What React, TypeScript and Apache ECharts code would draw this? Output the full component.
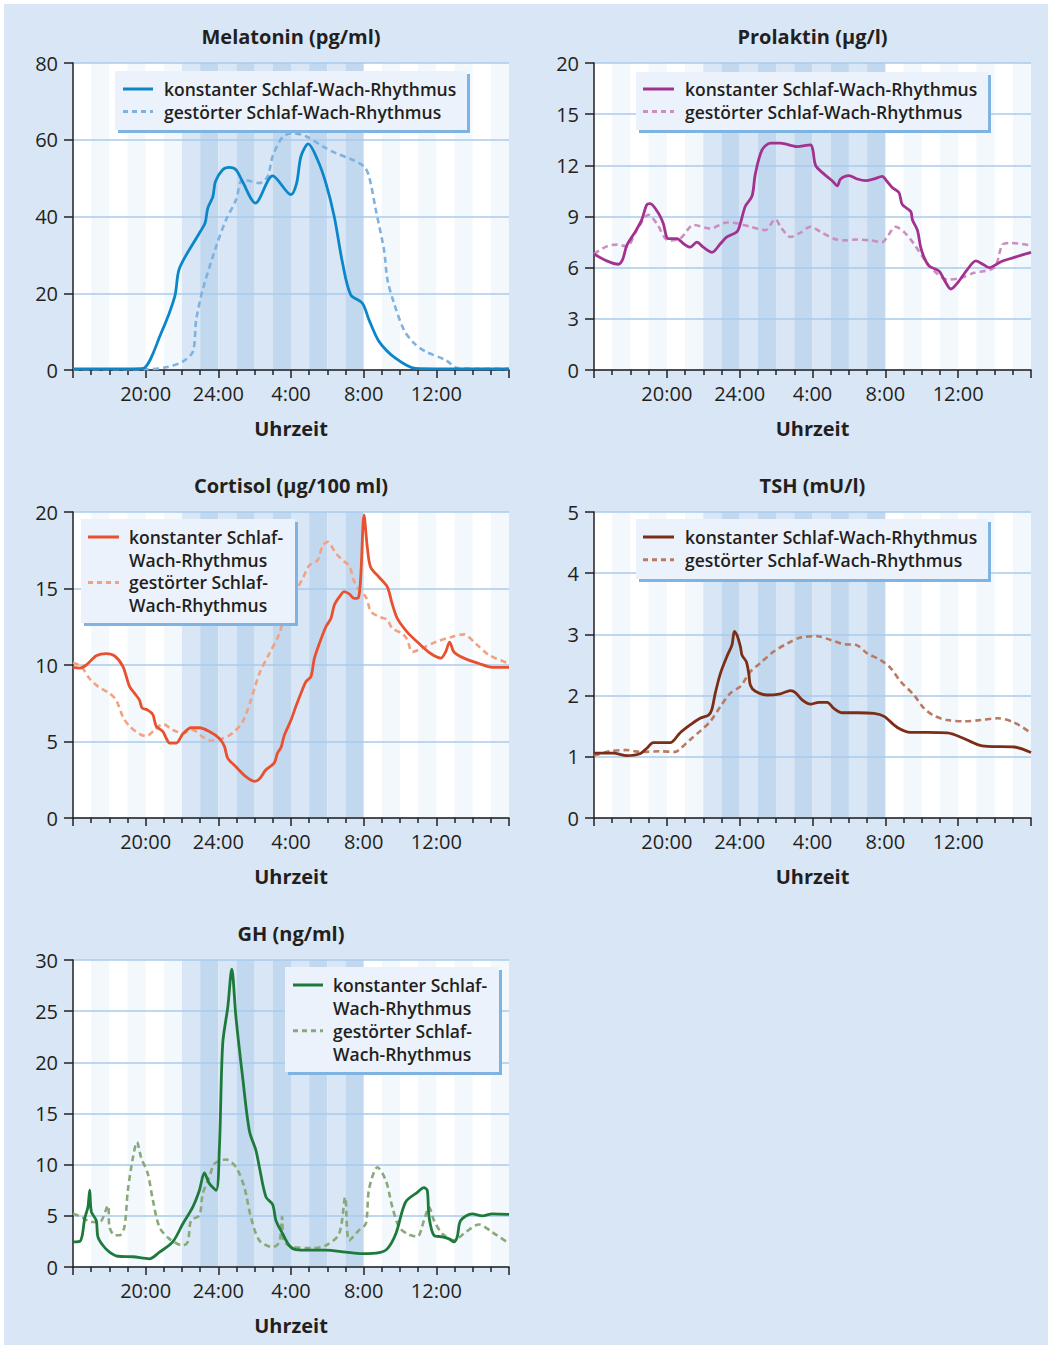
import React, { useEffect, useRef } from "react";
import * as echarts from "echarts";

// Time axis runs from 16:00 to 16:00 next day, expressed as hours 16..40
const HOUR_MIN = 16;
const HOUR_MAX = 40;
const HOUR_LABELS: Record<number, string> = {
  20: "20:00",
  24: "24:00",
  28: "4:00",
  32: "8:00",
  36: "12:00",
};

// Background bands: [from hour, to hour, kind]
// kind 0 = plain day, 1 = shaded day hour, 2 = night (light), 3 = night (dark)
const hourBands: number[][] = [
  [16, 40, 0],
  [17, 18, 1], [19, 20, 1], [21, 22, 1],
  [22, 23, 2], [23, 24, 3], [24, 25, 2], [25, 26, 3], [26, 27, 2],
  [27, 28, 3], [28, 29, 2], [29, 30, 3], [30, 31, 2], [31, 32, 3],
  [33, 34, 1], [35, 36, 1], [37, 38, 1], [39, 40, 1],
];

const LEGEND_CONST = "konstanter Schlaf-Wach-Rhythmus";
const LEGEND_DIST = "gestörter Schlaf-Wach-Rhythmus";
const LEGEND_CONST_WRAPPED = ["konstanter Schlaf-", "Wach-Rhythmus"];
const LEGEND_DIST_WRAPPED = ["gestörter Schlaf-", "Wach-Rhythmus"];

// ---- Melatonin (pg/ml)
const melatoninKonstant: number[][] = [
  [16, 0.3], [19.3, 0.3], [19.85, 0.4], [20.85, 9.6], [21.6, 19.1], [21.86, 26.5],
  [22.96, 35.7], [23.27, 38.3], [23.42, 42.2], [23.7, 45.2], [23.84, 49.1],
  [24.24, 52.2], [24.6, 52.8], [24.97, 52.2], [25.33, 49.1], [26.04, 43.5],
  [26.99, 50.6], [28.0, 45.7], [28.31, 48.7], [28.55, 55.7], [28.95, 58.9],
  [29.46, 54.8], [29.92, 48.7], [30.38, 40], [30.84, 27.8], [31.29, 19.6],
  [31.93, 17.4], [32.3, 13], [32.85, 7.4], [33.77, 3], [34.86, 0.4], [36, 0.3], [40, 0.3],
];
const melatoninGestoert: number[][] = [
  [16, 0.2], [20, 0.2], [21.13, 0.7], [22.04, 2.2], [22.6, 4.8], [22.78, 13],
  [23.14, 20.9], [23.88, 32.2], [24.42, 39.1], [24.97, 44.3], [25.33, 49.6],
  [25.8, 49.2], [26.26, 48.7], [26.71, 50.4], [26.99, 55.7], [27.54, 60.7],
  [28.1, 61.7], [28.82, 60.9], [29.74, 58.3], [30.47, 56.5], [31.38, 54.8],
  [32.03, 53], [32.3, 50.4], [32.67, 41.7], [33.12, 31.3], [33.31, 23.5],
  [33.67, 17.4], [34.22, 10.4], [34.77, 7], [35.41, 4.8], [36.51, 2.6],
  [37.25, 0.4], [40, 0.3],
];

// ---- Prolaktin (µg/l)
const prolaktinKonstant: number[][] = [
  [16, 6.8], [16.7, 6.4], [17.34, 6.2], [17.58, 6.5], [17.8, 7.3], [18.26, 8.1],
  [18.62, 8.8], [18.9, 9.7], [19.08, 9.75], [19.53, 9.2], [19.8, 8.6], [20.08, 7.7],
  [20.55, 7.7], [20.92, 7.4], [21.28, 7.2], [21.65, 7.5], [22.0, 7.2], [22.48, 6.9],
  [22.94, 7.4], [23.3, 7.8], [23.85, 8.1], [24.04, 8.6], [24.31, 9.6], [24.68, 10.2],
  [24.86, 11.5], [25.23, 12.9], [25.69, 13.3], [26.24, 13.3], [27.16, 13.1],
  [27.89, 13.2], [28.02, 12.9], [28.17, 12.0], [28.62, 11.5], [29.08, 11.1],
  [29.36, 10.8], [29.54, 11.2], [30.0, 11.4], [30.46, 11.2], [30.92, 11.1],
  [31.37, 11.2], [31.83, 11.35], [32.1, 11.05], [32.38, 10.7], [32.75, 10.4],
  [32.93, 9.7], [33.39, 9.3], [33.49, 8.8], [33.76, 8.2], [33.94, 7.2], [34.13, 6.6],
  [34.4, 6.1], [34.95, 5.8], [35.23, 5.3], [35.6, 4.75], [35.96, 5.1], [36.51, 5.9],
  [36.97, 6.4], [37.43, 6.15], [37.7, 6.0], [38.35, 6.35], [39.08, 6.6], [40, 6.9],
];
const prolaktinGestoert: number[][] = [
  [16, 6.8], [16.7, 7.25], [17.25, 7.35], [17.8, 7.25], [18.35, 8.2], [18.99, 9.1],
  [19.44, 8.6], [20.08, 7.6], [20.73, 7.7], [21.47, 8.5], [22.39, 8.3], [23.3, 8.65],
  [23.85, 8.6], [24.59, 8.4], [25.41, 8.2], [25.96, 8.85], [26.24, 8.4], [26.79, 7.8],
  [27.34, 8.05], [27.89, 8.4], [28.44, 8.1], [29.17, 7.7], [29.72, 7.6], [30.46, 7.65],
  [31.19, 7.6], [31.83, 7.5], [32.1, 7.8], [32.56, 8.4], [33.02, 8.1], [33.57, 7.4],
  [34.13, 6.5], [34.68, 5.8], [35.41, 5.3], [36.15, 5.4], [36.88, 5.7], [37.98, 6.0],
  [38.44, 7.35], [38.9, 7.45], [40, 7.3],
];
// Prolaktin axis: linear up to 18, top tick carries the label "20"
const prolaktinTickNames: Record<number, string> = { 0: "0", 3: "3", 6: "6", 9: "9", 12: "12", 15: "15", 18: "20" };

// ---- Cortisol (µg/100 ml)
const cortisolKonstant: number[][] = [
  [16, 9.85], [16.37, 9.8], [16.73, 10], [17.28, 10.6], [17.83, 10.75], [18.29, 10.6],
  [18.75, 9.9], [19.11, 8.6], [19.39, 8.15], [19.66, 7.7], [19.8, 7.2], [20.12, 7.05],
  [20.4, 6.75], [20.58, 6.0], [20.95, 5.65], [21.14, 5.2], [21.32, 4.9], [21.68, 4.9],
  [22.05, 5.5], [22.5, 5.9], [22.96, 5.9], [23.51, 5.65], [24.06, 5.2], [24.33, 4.7],
  [24.52, 3.9], [24.97, 3.35], [25.52, 2.7], [25.98, 2.4], [26.26, 2.55], [26.62, 3.15],
  [27.08, 3.6], [27.26, 4.25], [27.45, 4.6], [27.63, 5.4], [28.0, 6.4], [28.27, 7.3],
  [28.55, 8.15], [28.82, 8.9], [29.1, 9.25], [29.28, 10.4], [29.56, 11.4], [29.92, 12.5],
  [30.2, 13.05], [30.38, 13.9], [30.66, 14.45], [30.93, 14.8], [31.2, 14.65],
  [31.48, 14.35], [31.71, 14.4], [31.84, 15.8], [32.02, 19.8], [32.2, 17.7],
  [32.38, 16.4], [32.84, 15.75], [33.3, 15.1], [33.57, 14.0], [33.85, 13.05],
  [34.4, 12.15], [35.05, 11.4], [35.69, 10.75], [36.24, 10.45], [36.51, 10.85],
  [36.73, 11.5], [36.97, 10.85], [37.52, 10.45], [38.34, 10.1], [39.08, 9.85], [40, 9.85],
];
const cortisolGestoert: number[][] = [
  [16, 10.15], [16.46, 9.9], [16.92, 9.1], [17.37, 8.6], [18.01, 8.15], [18.38, 7.7],
  [18.75, 6.6], [19.11, 6.0], [19.66, 5.5], [20.03, 5.35], [20.49, 5.75], [20.95, 6.15],
  [21.5, 5.75], [22.05, 5.55], [22.59, 5.75], [23.14, 5.3], [23.6, 5.05], [24.24, 5.2],
  [24.79, 5.55], [25.34, 6.3], [25.79, 7.7], [26.26, 9.45], [26.81, 10.75],
  [27.36, 12.05], [27.63, 13.35], [27.9, 14.55], [28.27, 14.9], [28.64, 15.65],
  [29.0, 16.5], [29.46, 16.85], [29.74, 17.8], [30.01, 18.05], [30.47, 17.3],
  [30.84, 16.85], [31.2, 16.5], [31.48, 15.45], [31.76, 14.9], [32.12, 14.45],
  [32.4, 13.5], [32.86, 13.15], [33.3, 12.95], [33.57, 12.4], [34.13, 12.05],
  [34.4, 11.65], [34.68, 10.85], [35.23, 11.1], [35.96, 11.5], [36.88, 11.85],
  [37.52, 12.0], [38.17, 11.4], [38.9, 10.65], [40, 10.1],
];

// ---- TSH (mU/l)
const tshKonstant: number[][] = [
  [16, 1.06], [17.06, 1.06], [17.8, 1.02], [18.53, 1.05], [18.9, 1.14], [19.26, 1.23],
  [20.18, 1.23], [20.72, 1.39], [21.28, 1.52], [21.83, 1.63], [22.29, 1.68],
  [22.47, 1.77], [22.66, 2.04], [22.94, 2.36], [23.3, 2.64], [23.58, 2.83],
  [23.71, 3.05], [23.85, 2.99], [24.04, 2.8], [24.13, 2.66], [24.37, 2.55],
  [24.5, 2.36], [24.59, 2.17], [24.86, 2.07], [25.5, 2.01], [26.24, 2.03],
  [26.79, 2.08], [27.06, 2.05], [27.43, 1.93], [27.89, 1.86], [28.35, 1.89],
  [28.81, 1.89], [29.17, 1.79], [29.63, 1.72], [30.46, 1.72], [31.38, 1.71],
  [31.93, 1.66], [32.66, 1.48], [33.39, 1.4], [34.31, 1.4], [35.41, 1.39],
  [36.15, 1.32], [37.06, 1.2], [37.61, 1.17], [39.08, 1.16], [40, 1.07],
];
const tshGestoert: number[][] = [
  [16, 1.02], [16.88, 1.09], [17.8, 1.11], [18.53, 1.08], [19.63, 1.09], [20.46, 1.08],
  [20.73, 1.13], [21.28, 1.28], [21.83, 1.42], [22.39, 1.58], [22.94, 1.82],
  [23.49, 2.04], [24.04, 2.15], [24.59, 2.39], [25.13, 2.53], [25.87, 2.72],
  [26.61, 2.85], [27.34, 2.95], [28.26, 2.97], [28.99, 2.91], [29.72, 2.84],
  [30.37, 2.83], [31.01, 2.69], [31.74, 2.58], [32.29, 2.45], [32.84, 2.23],
  [33.57, 2.01], [34.13, 1.79], [34.68, 1.67], [35.41, 1.6], [36.33, 1.58],
  [37.25, 1.6], [38.17, 1.63], [39.08, 1.56], [40, 1.39],
];

// ---- GH (ng/ml)
const ghKonstant: number[][] = [
  [16, 2.45], [16.37, 2.5], [16.51, 3.1], [16.64, 4.7], [16.82, 5.85], [16.92, 7.5],
  [17.01, 5.4], [17.28, 4.55], [17.37, 2.95], [17.65, 2.1], [18.01, 1.45], [18.47, 1.05],
  [19.3, 1.0], [20.21, 0.8], [20.76, 1.45], [21.49, 2.45], [22.04, 4.2], [22.59, 5.85],
  [22.96, 7.5], [23.23, 9.2], [23.51, 8.15], [23.88, 7.5], [24.06, 11.7], [24.24, 21.8],
  [24.52, 25.4], [24.74, 29.1], [24.97, 24.4], [25.34, 18.5], [25.71, 13.3],
  [26.07, 11.4], [26.26, 9.75], [26.62, 6.85], [26.99, 6.1], [27.17, 4.55], [27.54, 3.25],
  [27.9, 2.1], [28.27, 1.7], [29.0, 1.65], [29.92, 1.65], [31.01, 1.45], [31.93, 1.3],
  [32.85, 1.4], [33.31, 1.8], [33.77, 3.25], [34.31, 6.35], [34.96, 7.3], [35.32, 7.75],
  [35.5, 7.5], [35.6, 4.9], [35.87, 3.1], [36.33, 2.95], [36.7, 2.75], [36.97, 2.45],
  [37.15, 2.95], [37.34, 4.55], [37.98, 5.2], [38.53, 5.0], [39.08, 5.2], [40, 5.15],
];
const ghGestoert: number[][] = [
  [16, 5.2], [16.46, 4.9], [17.01, 4.4], [17.47, 4.4], [17.92, 6.0], [18.01, 3.9],
  [18.29, 3.1], [18.56, 3.1], [18.83, 3.9], [19.02, 7.5], [19.3, 10.7], [19.52, 12.2],
  [19.75, 10.7], [20.12, 9.1], [20.4, 6.5], [20.76, 3.9], [21.31, 2.75], [22.04, 2.1],
  [22.32, 2.45], [22.5, 4.55], [22.96, 5.05], [23.14, 7.15], [23.51, 8.8], [23.79, 10.1],
  [24.42, 10.5], [24.97, 9.75], [25.43, 7.8], [25.79, 4.9], [26.26, 2.6], [26.99, 1.95],
  [27.36, 2.45], [27.51, 4.9], [27.58, 2.6], [28.1, 1.95], [29.18, 1.85], [29.92, 2.1],
  [30.65, 3.25], [30.98, 6.8], [31.2, 2.6], [31.75, 3.6], [32.12, 4.25], [32.3, 7.65],
  [32.76, 9.75], [33.22, 8.45], [33.58, 5.85], [33.95, 3.9], [34.4, 3.25], [34.95, 2.95],
  [35.32, 4.55], [35.6, 5.85], [35.87, 4.55], [36.33, 3.25], [36.97, 2.6], [37.61, 3.4],
  [38.35, 4.15], [39.08, 3.4], [40, 2.3],
];

const FONT = '"Open Sans", "Noto Sans", "DejaVu Sans", sans-serif';
const INK = "#231f20";
const BAND_COLORS = ["#ffffff", "#f3f8fd", "#d8e6f5", "#c1d8ef"];

type LegendLayout = {
  box: [number, number, number, number];
  sampleX: [number, number];
  textX: number;
  firstY: number;
  lineGap: number;
  wrapped: boolean;
};

type Panel = {
  title: string;
  solid: number[][];
  dashed: number[][];
  yMax: number;
  yInterval: number;
  yLabels?: Record<number, string>;
  solidColor: string;
  dashedColor: string;
  grid: { left: number; top: number; width: number; height: number };
  legend: LegendLayout;
};

const panels: Panel[] = [
  {
    title: "Melatonin (pg/ml)",
    solid: melatoninKonstant,
    dashed: melatoninGestoert,
    yMax: 80,
    yInterval: 20,
    solidColor: "#0b86c9",
    dashedColor: "#7db2e1",
    grid: { left: 73, top: 63, width: 436, height: 307 },
    legend: { box: [115, 71, 352, 59], sampleX: [123, 153], textX: 164, firstY: 89, lineGap: 22.5, wrapped: false },
  },
  {
    title: "Prolaktin (µg/l)",
    solid: prolaktinKonstant,
    dashed: prolaktinGestoert,
    yMax: 18,
    yInterval: 3,
    yLabels: prolaktinTickNames,
    solidColor: "#a2318f",
    dashedColor: "#cc8dc1",
    grid: { left: 594, top: 63, width: 437, height: 307 },
    legend: { box: [636, 72, 352, 58], sampleX: [643, 674], textX: 685, firstY: 89, lineGap: 22.5, wrapped: false },
  },
  {
    title: "Cortisol (µg/100 ml)",
    solid: cortisolKonstant,
    dashed: cortisolGestoert,
    yMax: 20,
    yInterval: 5,
    solidColor: "#e8512f",
    dashedColor: "#f2a283",
    grid: { left: 73, top: 512, width: 436, height: 306 },
    legend: { box: [81, 519, 214, 104], sampleX: [88, 119], textX: 129, firstY: 537, lineGap: 22.7, wrapped: true },
  },
  {
    title: "TSH (mU/l)",
    solid: tshKonstant,
    dashed: tshGestoert,
    yMax: 5,
    yInterval: 1,
    solidColor: "#7b2d16",
    dashedColor: "#b97a62",
    grid: { left: 594, top: 512, width: 437, height: 306 },
    legend: { box: [636, 519, 352, 60], sampleX: [643, 674], textX: 685, firstY: 537, lineGap: 22.7, wrapped: false },
  },
  {
    title: "GH (ng/ml)",
    solid: ghKonstant,
    dashed: ghGestoert,
    yMax: 30,
    yInterval: 5,
    solidColor: "#1e7a3b",
    dashedColor: "#8aa97a",
    grid: { left: 73, top: 960, width: 436, height: 307 },
    legend: { box: [285, 967, 214, 105], sampleX: [293, 323], textX: 333, firstY: 985, lineGap: 22.9, wrapped: true },
  },
];

function legendElements(p: Panel): any[] {
  const L = p.legend;
  const [bx, by, bw, bh] = L.box;
  const els: any[] = [
    { type: "rect", z: 20, shape: { x: bx + 3, y: by + 3, width: bw, height: bh }, style: { fill: "#7fb3e2" } },
    { type: "rect", z: 21, shape: { x: bx, y: by, width: bw, height: bh }, style: { fill: "#ebf2fb" } },
  ];
  const entries = L.wrapped
    ? [
        { lines: LEGEND_CONST_WRAPPED, color: p.solidColor, dash: false },
        { lines: LEGEND_DIST_WRAPPED, color: p.dashedColor, dash: true },
      ]
    : [
        { lines: [LEGEND_CONST], color: p.solidColor, dash: false },
        { lines: [LEGEND_DIST], color: p.dashedColor, dash: true },
      ];
  let row = 0;
  entries.forEach((e) => {
    const y0 = L.firstY + row * L.lineGap;
    els.push({
      type: "line",
      z: 22,
      shape: { x1: L.sampleX[0], y1: y0, x2: L.sampleX[1], y2: y0 },
      style: { stroke: e.color, lineWidth: 3, lineDash: e.dash ? [5, 4] : null },
    });
    e.lines.forEach((t) => {
      const y = L.firstY + row * L.lineGap;
      els.push({
        type: "text",
        z: 22,
        x: L.textX,
        y,
        style: {
          text: t,
          fill: INK,
          font: `600 17.5px ${FONT}`,
          textAlign: "left",
          textVerticalAlign: "middle",
        },
      });
      row += 1;
    });
  });
  return els;
}

export default function App() {
  const ref = useRef<HTMLDivElement>(null);

  useEffect(() => {
    if (!ref.current) return;
    const chart = echarts.init(ref.current, undefined, { renderer: "svg" });

    const grids = panels.map((p) => ({ ...p.grid, show: false, containLabel: false }));

    const xAxes = panels.map((p, i) => ({
      gridIndex: i,
      type: "value",
      min: HOUR_MIN,
      max: HOUR_MAX,
      interval: 4,
      axisLine: { show: true, onZero: false, lineStyle: { color: INK, width: 1.5 } },
      axisTick: { show: true, length: 8, lineStyle: { color: INK, width: 1.5 } },
      minorTick: { show: true, splitNumber: 4, length: 5, lineStyle: { color: INK, width: 1.5 } },
      splitLine: { show: false },
      minorSplitLine: { show: false },
      axisLabel: {
        formatter: (v: number) => HOUR_LABELS[v] ?? "",
        margin: 13,
        fontSize: 20,
        color: INK,
        fontFamily: FONT,
      },
      name: "Uhrzeit",
      nameLocation: "middle",
      nameGap: 48,
      nameTextStyle: { fontWeight: "bold", fontSize: 20, color: INK, fontFamily: FONT },
    }));

    const yAxes = panels.map((p, i) => ({
      gridIndex: i,
      type: "value",
      min: 0,
      max: p.yMax,
      interval: p.yInterval,
      axisLine: { show: true, lineStyle: { color: INK, width: 1.5 } },
      axisTick: { show: true, length: 9, lineStyle: { color: INK, width: 1.5 } },
      splitLine: { show: true, lineStyle: { color: "#a9cbec", width: 1.5 } },
      axisLabel: {
        margin: 15,
        fontSize: 20,
        color: INK,
        fontFamily: FONT,
        formatter: (v: number) => (p.yLabels ? p.yLabels[v] ?? "" : String(v)),
      },
    }));

    const series: any[] = [];
    panels.forEach((p, i) => {
      series.push({
        type: "custom",
        xAxisIndex: i,
        yAxisIndex: i,
        z: -1,
        silent: true,
        clip: true,
        data: hourBands,
        encode: { x: [0, 1] },
        renderItem: (params: any, api: any) => {
          const a = api.coord([api.value(0), 0]);
          const b = api.coord([api.value(1), 0]);
          const cs = params.coordSys;
          return {
            type: "rect",
            shape: { x: a[0], y: cs.y, width: b[0] - a[0], height: cs.height },
            style: { fill: BAND_COLORS[api.value(2)] },
          };
        },
      });
      series.push({
        type: "line",
        name: LEGEND_DIST,
        xAxisIndex: i,
        yAxisIndex: i,
        data: p.dashed,
        showSymbol: false,
        smooth: 0.3,
        z: 3,
        lineStyle: { color: p.dashedColor, width: 2.6, type: [6, 4] },
      });
      series.push({
        type: "line",
        name: LEGEND_CONST,
        xAxisIndex: i,
        yAxisIndex: i,
        data: p.solid,
        showSymbol: false,
        smooth: 0.3,
        z: 4,
        lineStyle: { color: p.solidColor, width: 2.8 },
      });
    });

    const graphics: any[] = [
      { type: "rect", z: -10, shape: { x: 4, y: 4, width: 1044, height: 1341 }, style: { fill: "#d9e6f5" } },
    ];
    panels.forEach((p) => {
      graphics.push({
        type: "text",
        z: 5,
        x: p.grid.left + p.grid.width / 2,
        y: p.grid.top - 27,
        style: {
          text: p.title,
          fill: INK,
          font: `bold 20px ${FONT}`,
          textAlign: "center",
          textVerticalAlign: "middle",
        },
      });
      graphics.push(...legendElements(p));
    });

    chart.setOption({
      animation: false,
      backgroundColor: "#ffffff",
      textStyle: { fontFamily: FONT },
      grid: grids,
      xAxis: xAxes,
      yAxis: yAxes,
      series,
      graphic: { elements: graphics },
    });

    return () => chart.dispose();
  }, []);

  return (
    <div
      ref={ref}
      style={{ position: "absolute", left: 0, top: 0, width: 1052, height: 1349 }}
    />
  );
}
